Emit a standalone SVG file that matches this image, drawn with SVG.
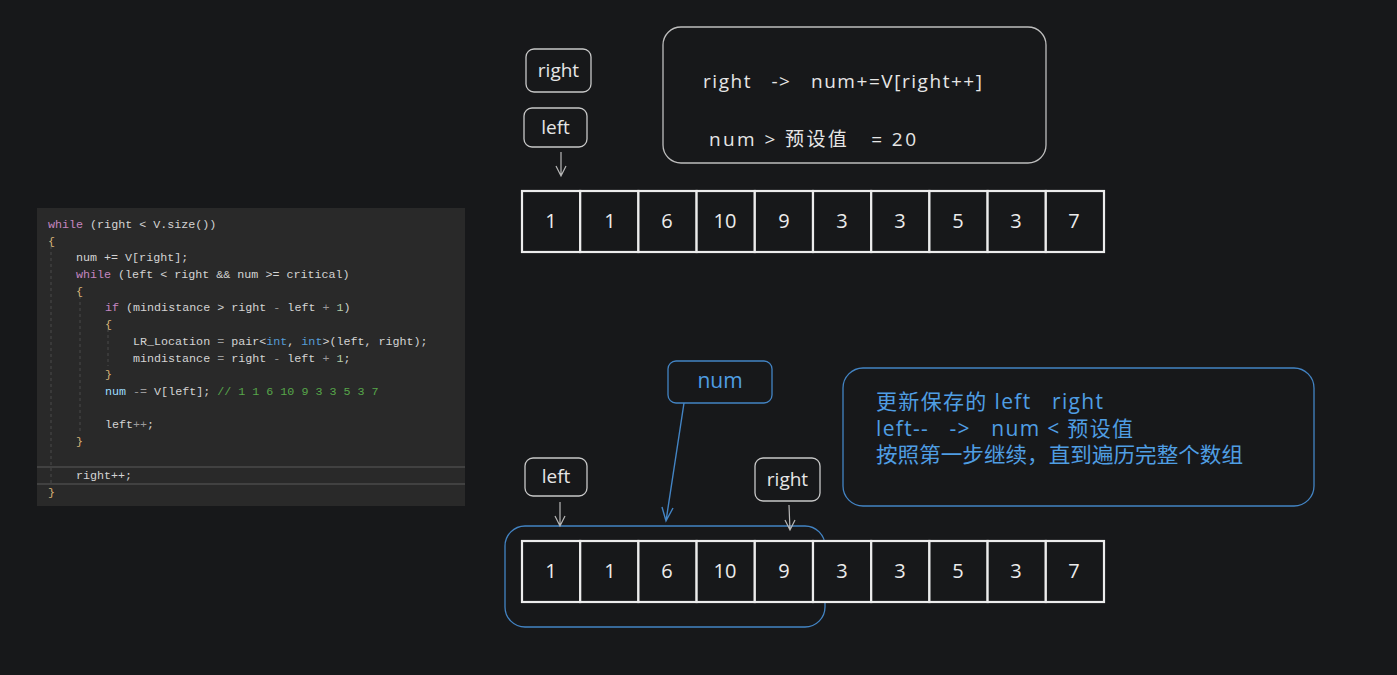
<svg xmlns="http://www.w3.org/2000/svg" width="1397" height="675" viewBox="0 0 1397 675">
<defs>
<style>
.code{font-family:"Liberation Mono","DejaVu Sans Mono",monospace;font-size:11.7px;fill:#d4d4d4;white-space:pre}
.kw{fill:#c586c0}.br{fill:#d7b377}.ty{fill:#569cd6}.nm{fill:#b5cea8}.cm{fill:#57a64a}.op{fill:#9a9a9a}.vr{fill:#9cdcfe}
.guide{stroke:#4a4a4a;stroke-width:1;stroke-dasharray:3 3}
.hand{font-family:"Open Sans","Noto Sans CJK SC",sans-serif;font-size:19px;fill:#e6e6e6}
.lbl{fill:none;stroke:#c8c8c8;stroke-width:1.3}
.cell{fill:#17181a;stroke:#ececec;stroke-width:2.2}
.num{font-family:"Open Sans",sans-serif;font-size:20px;fill:#ececec;text-anchor:middle}
.blue{fill:none;stroke:#4384c4;stroke-width:1.3}
.btxt{font-family:"Open Sans","Noto Sans CJK SC",sans-serif;font-size:21px;fill:#4f9ee3}
.wa{stroke:#b8b8b8;stroke-width:1.2;fill:none}
.ba{stroke:#4384c4;stroke-width:1.4;fill:none}
</style>
</defs>
<rect width="1397" height="675" fill="#17181a"/>

<g id="code">
<rect x="37" y="208" width="428" height="298" fill="#292929"/>
<line class="guide" x1="51" y1="246" x2="51" y2="484"/>
<line class="guide" x1="80" y1="296" x2="80" y2="432"/>
<line class="guide" x1="108" y1="329" x2="108" y2="366"/>
<line x1="37" y1="467" x2="465" y2="467" stroke="#4a4a4a" stroke-width="1.5"/>
<line x1="37" y1="484" x2="465" y2="484" stroke="#4a4a4a" stroke-width="1.5"/>
<text class="code" x="48" y="228"><tspan class="kw">while</tspan> (right &lt; V.size())</text>
<text class="code br" x="48" y="245">{</text>
<text class="code" x="76" y="261">num += V[right];</text>
<text class="code" x="76" y="278"><tspan class="kw">while</tspan> (left &lt; right &amp;&amp; num &gt;= critical)</text>
<text class="code br" x="76" y="295">{</text>
<text class="code" x="105" y="311"><tspan class="kw">if</tspan> (mindistance &gt; right <tspan class="op">-</tspan> left <tspan class="op">+</tspan> <tspan class="nm">1</tspan>)</text>
<text class="code br" x="105" y="328">{</text>
<text class="code" x="133" y="345">LR_Location <tspan class="op">=</tspan> pair&lt;<tspan class="ty">int</tspan>, <tspan class="ty">int</tspan>&gt;(left, right);</text>
<text class="code" x="133" y="362">mindistance <tspan class="op">=</tspan> right <tspan class="op">-</tspan> left <tspan class="op">+</tspan> <tspan class="nm">1</tspan>;</text>
<text class="code br" x="105" y="378">}</text>
<text class="code" x="105" y="395"><tspan class="vr">num</tspan> <tspan class="op">-=</tspan> V[left]; <tspan class="cm">// 1 1 6 10 9 3 3 5 3 7</tspan></text>
<text class="code" x="105" y="428">left<tspan class="op">++</tspan>;</text>
<text class="code br" x="76" y="445">}</text>
<text class="code" x="76" y="479">right++;</text>
<text class="code br" x="48" y="496">}</text>
</g>

<g id="label-right-top">
<rect class="lbl" x="526" y="49" width="65" height="43" rx="8"/>
<text class="hand" x="558.5" y="77" text-anchor="middle">right</text>
</g>
<g id="label-left-top">
<rect class="lbl" x="524" y="108" width="63" height="39" rx="8"/>
<text class="hand" x="555.5" y="134" text-anchor="middle">left</text>
</g>

<g id="note-top">
<rect x="663" y="27" width="383" height="136" rx="18" fill="none" stroke="#bdbdbd" stroke-width="1.3"/>
<text class="hand" x="703" y="88" xml:space="preserve" textLength="279" lengthAdjust="spacing">right   -&gt;   num+=V[right++]</text>
<text class="hand" x="709" y="146" xml:space="preserve" textLength="207" lengthAdjust="spacing">num &gt; 预设值   = 20</text>
</g>

<g id="array-top">
<rect class="cell" x="522" y="191" width="58.2" height="61"/>
<rect class="cell" x="580.2" y="191" width="58.2" height="61"/>
<rect class="cell" x="638.4" y="191" width="58.2" height="61"/>
<rect class="cell" x="696.6" y="191" width="58.2" height="61"/>
<rect class="cell" x="754.8" y="191" width="58.2" height="61"/>
<rect class="cell" x="813" y="191" width="58.2" height="61"/>
<rect class="cell" x="871.2" y="191" width="58.2" height="61"/>
<rect class="cell" x="929.4" y="191" width="58.2" height="61"/>
<rect class="cell" x="987.6" y="191" width="58.2" height="61"/>
<rect class="cell" x="1045.8" y="191" width="58.2" height="61"/>
<text class="num" x="551" y="228">1</text>
<text class="num" x="610" y="228">1</text>
<text class="num" x="667" y="228">6</text>
<text class="num" x="725" y="228">10</text>
<text class="num" x="784" y="228">9</text>
<text class="num" x="842" y="228">3</text>
<text class="num" x="900" y="228">3</text>
<text class="num" x="958" y="228">5</text>
<text class="num" x="1016" y="228">3</text>
<text class="num" x="1074" y="228">7</text>
</g>

<g id="label-num">
<rect class="blue" x="668" y="361" width="104" height="42" rx="8"/>
<text class="btxt" x="720" y="388" text-anchor="middle" font-size="17">num</text>
</g>

<g id="note-bottom">
<rect class="blue" x="843" y="368" width="471" height="138" rx="20"/>
<text class="btxt" x="876" y="409" xml:space="preserve" textLength="227" lengthAdjust="spacing">更新保存的 left   right</text>
<text class="btxt" x="876" y="436" xml:space="preserve" textLength="257" lengthAdjust="spacing">left--   -&gt;   num &lt; 预设值</text>
<text class="btxt" x="876" y="462" textLength="367" lengthAdjust="spacingAndGlyphs">按照第一步继续，直到遍历完整个数组</text>
</g>

<g id="label-left-bottom">
<rect class="lbl" x="525" y="458" width="62" height="38" rx="8"/>
<text class="hand" x="556" y="483" text-anchor="middle">left</text>
</g>
<g id="label-right-bottom">
<rect class="lbl" x="755" y="458" width="65" height="43" rx="8"/>
<text class="hand" x="787.5" y="486" text-anchor="middle">right</text>
</g>

<g id="group-highlight">
<rect class="blue" x="505" y="526" width="320" height="101" rx="20"/>
</g>

<g id="array-bottom">
<rect class="cell" x="522" y="541" width="58.2" height="61"/>
<rect class="cell" x="580.2" y="541" width="58.2" height="61"/>
<rect class="cell" x="638.4" y="541" width="58.2" height="61"/>
<rect class="cell" x="696.6" y="541" width="58.2" height="61"/>
<rect class="cell" x="754.8" y="541" width="58.2" height="61"/>
<rect class="cell" x="813" y="541" width="58.2" height="61"/>
<rect class="cell" x="871.2" y="541" width="58.2" height="61"/>
<rect class="cell" x="929.4" y="541" width="58.2" height="61"/>
<rect class="cell" x="987.6" y="541" width="58.2" height="61"/>
<rect class="cell" x="1045.8" y="541" width="58.2" height="61"/>
<text class="num" x="551" y="578">1</text>
<text class="num" x="610" y="578">1</text>
<text class="num" x="667" y="578">6</text>
<text class="num" x="725" y="578">10</text>
<text class="num" x="784" y="578">9</text>
<text class="num" x="842" y="578">3</text>
<text class="num" x="900" y="578">3</text>
<text class="num" x="958" y="578">5</text>
<text class="num" x="1016" y="578">3</text>
<text class="num" x="1074" y="578">7</text>
</g>

<g id="connectors">
<path class="wa" d="M561 152 L561 176 M556 166 L561 176 L566 166"/>
<path class="wa" d="M560 502 L560 526 M555 516 L560 526 L565 516"/>
<path class="wa" d="M789 505 L790 530 M785 520 L790 530 L795 520"/>
<path class="ba" d="M684 403 L666 521 M662 507 L666 521 L673 508"/>
</g>
</svg>
